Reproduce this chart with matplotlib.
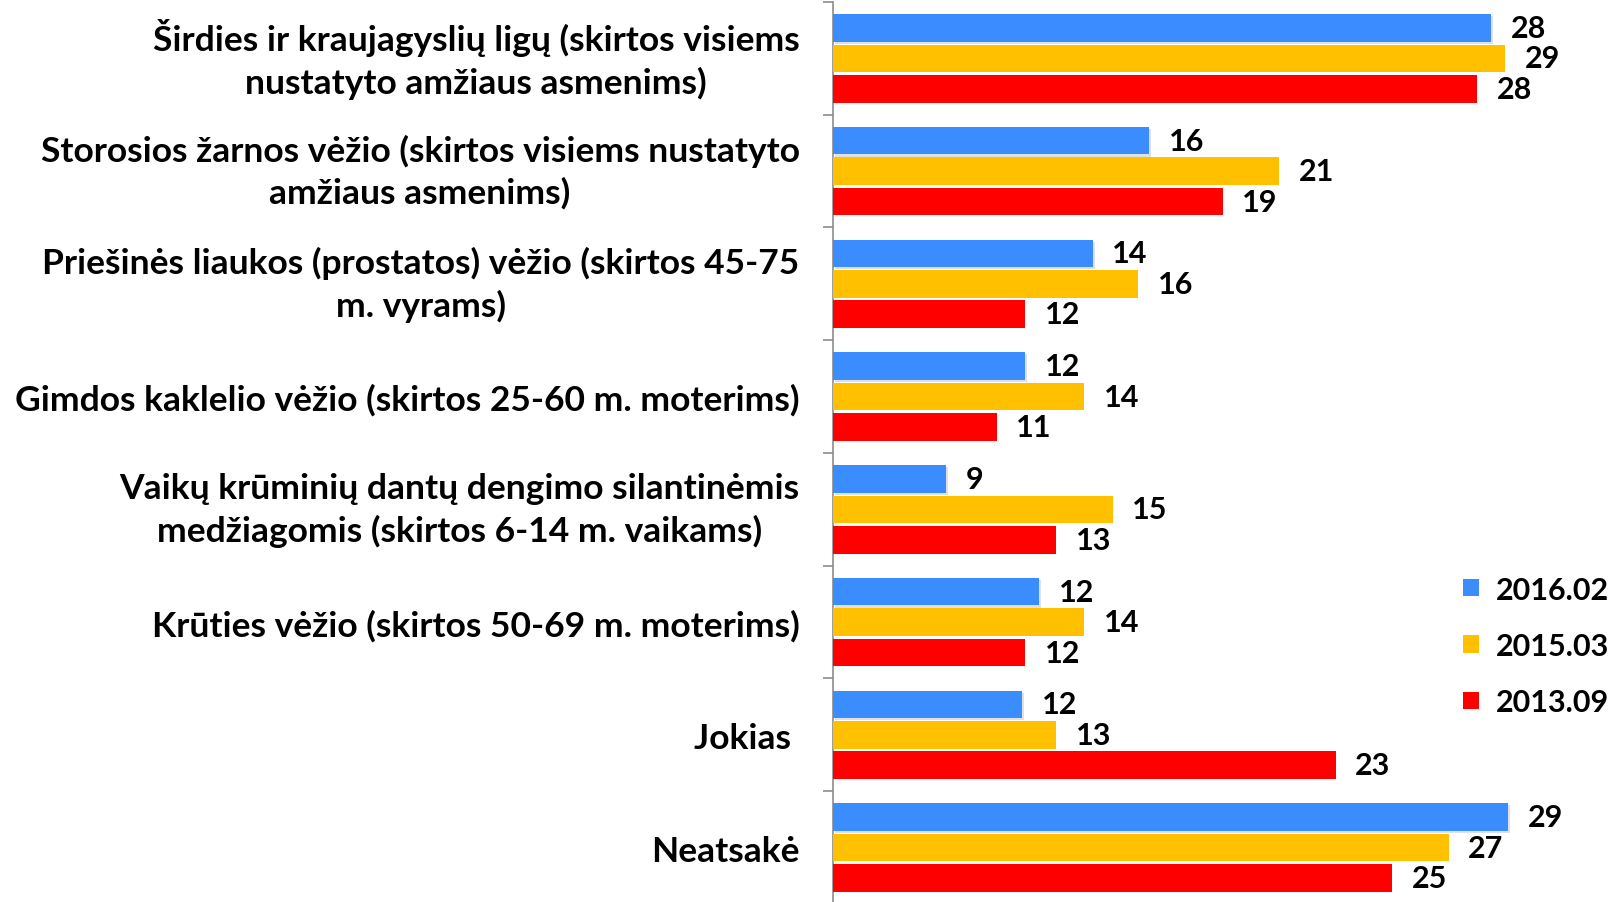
import matplotlib as mpl

mpl.use("Agg")

import matplotlib.pyplot as plt
import numpy as np
from matplotlib import patheffects
from matplotlib.patches import Patch

plt.rcParams["font.family"] = ["Lato", "DejaVu Sans"]
plt.rcParams["font.weight"] = "bold"

categories = [
    "Širdies ir kraujagyslių ligų (skirtos visiems\nnustatyto amžiaus asmenims)",
    "Storosios žarnos vėžio (skirtos visiems nustatyto\namžiaus asmenims)",
    "Priešinės liaukos (prostatos) vėžio (skirtos 45-75\nm. vyrams)",
    "Gimdos kaklelio vėžio (skirtos 25-60 m. moterims)",
    "Vaikų krūminių dantų dengimo silantinėmis\nmedžiagomis (skirtos 6-14 m. vaikams)",
    "Krūties vėžio (skirtos 50-69 m. moterims)",
    "Jokias ",
    "Neatsakė",
]
series_names = ["2016.02", "2015.03", "2013.09"]
vals_2016 = [28.3, 16.2, 14.2, 11.8, 9.0, 12.3, 11.7, 28.9]
vals_2015 = [28.8, 20.8, 15.8, 13.9, 14.9, 13.9, 12.9, 26.8]
vals_2013 = [27.8, 18.8, 11.8, 10.8, 12.9, 11.8, 22.8, 24.8]
colors = ["#3a8cff", "#ffc000", "#ff0000"]

X_MIN = 5

fig = plt.figure(figsize=(16.17, 9.03), dpi=100)
fig.patch.set_facecolor("white")
ax = fig.add_axes([0.5151, -0.0022, 0.4368, 0.9989])

y = np.arange(len(categories))
offsets = [-0.27, 0.0, 0.27]
bar_h = 0.245
for vals, off, col, name in zip([vals_2016, vals_2015, vals_2013], offsets, colors, series_names):
    widths = np.array(vals) - X_MIN
    bars = ax.barh(y + off, widths, left=X_MIN, height=bar_h, color=col, label=name, zorder=3)
    if name == "2016.02":
        for b in bars:
            b.set_path_effects([
                patheffects.SimplePatchShadow(offset=(1.5, -1.5), shadow_rgbFace="#999999", alpha=0.3),
                patheffects.Normal(),
            ])
    for b, v in zip(bars, vals):
        ax.annotate(f"{v:.0f}", (b.get_x() + b.get_width(), b.get_y() + b.get_height() / 2),
                    xytext=(14, 0), textcoords="offset points", ha="left", va="center",
                    fontsize=22, fontweight="bold", color="black", clip_on=False)

ax.set_xlim(X_MIN, 30)
ax.set_ylim(len(categories) - 0.5, -0.5)

ax.set_yticks(y)
labels = ax.set_yticklabels(categories, fontsize=25.5, fontweight="bold", multialignment="center",
                            linespacing=1.36, va="center")
for lab in labels:
    if "\n" not in lab.get_text():
        lab.set_va("center_baseline")
ax.set_yticks(np.arange(len(categories) + 1) - 0.5, minor=True)
ax.tick_params(axis="y", which="major", length=0, pad=24)
ax.tick_params(axis="y", which="minor", length=7, width=1.2, color="#8c8c8c", direction="out")
ax.set_xticks([])

for side in ["top", "right", "bottom"]:
    ax.spines[side].set_visible(False)
ax.spines["left"].set_color("#8c8c8c")
ax.spines["left"].set_linewidth(1.2)

handles = [Patch(facecolor=c, edgecolor="none") for c in colors]
fig.legend(handles, series_names, loc="upper left", bbox_to_anchor=(0.8975, 0.375),
           frameon=False, prop={"weight": "bold", "size": 22},
           handlelength=0.5, handleheight=0.5, handletextpad=0.55, labelspacing=0.93,
           borderaxespad=0)

fig.savefig("out.png", dpi=100, facecolor="white")
